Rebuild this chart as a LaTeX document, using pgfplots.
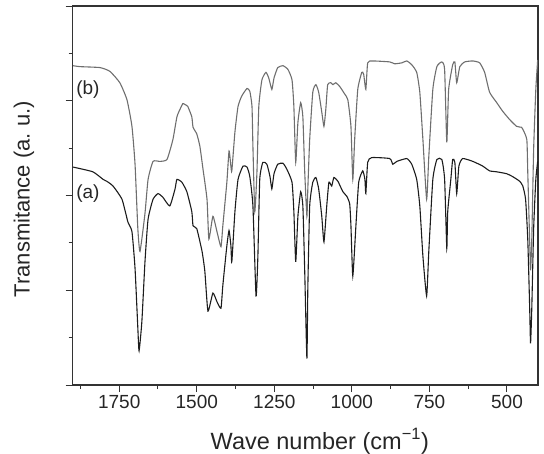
\documentclass[border=0pt]{standalone}
\usepackage{fontspec}
\setmainfont{Liberation Sans}
\usepackage{pgfplots}
\pgfplotsset{compat=1.18}

\definecolor{specA}{HTML}{1C1C1C}
\definecolor{specB}{HTML}{6E6E6E}
\definecolor{frame}{HTML}{333333}

\begin{document}
\begin{tikzpicture}
\useasboundingbox (-72.7pt,-68pt) rectangle (471.3pt,385pt);
\begin{axis}[
  scale only axis,
  width=465.3pt, height=379pt,
  x dir=reverse,
  xmin=400, xmax=1900, ymin=0, ymax=4,
  xtick={500,750,1000,1250,1500,1750},
  minor xtick={625,875,1125,1375,1625,1875},
  ytick={0,1,2,3,4}, minor ytick={0.5,1.5,2.5,3.5},
  yticklabels={},
  xtick pos=bottom, ytick pos=left,
  tick align=outside,
  major tick length=7pt, minor tick length=4pt,
  axis line style={frame, line width=1.2pt},
  every tick/.style={frame, line width=1.0pt},
  /pgf/number format/assume math mode=true,
  /pgf/number format/1000 sep={},
  tick label style={font=\fontsize{19}{19}\selectfont, text=black!85},
  xlabel={Wave number (cm\textsuperscript{−1})},
  ylabel={Transmitance (a.\ u.)},
  every axis x label/.style={at={(axis description cs:0.531,-0.1689)}, anchor=base,
    font=\fontsize{23.5}{24}\selectfont, text=black!85},
  every axis y label/.style={at={(axis description cs:-0.105,0.49)}, anchor=center, rotate=90,
    font=\fontsize{22}{22}\selectfont, text=black!85},
  clip=false,
]
% spectrum (b)
\addplot[specB, line width=1.1pt, smooth, tension=0.3] coordinates {
(1899,3.37) (1876,3.36) (1812,3.35) (1780,3.31) (1748,3.19) (1725,3.01) (1709,2.73)
(1699,2.33) (1690,1.65) (1683,1.41) (1667,1.81) (1657,2.17) (1641,2.36) (1619,2.36)
(1596,2.38) (1577,2.59) (1564,2.83) (1554,2.91) (1545,2.97) (1538,2.96) (1529,2.94)
(1516,2.83) (1512,2.72) (1500,2.65) (1490,2.52) (1480,2.28) (1467,1.96) (1461,1.54)
(1448,1.78) (1435,1.62) (1422,1.46) (1416,1.68) (1403,2.14) (1396,2.47) (1390,2.31)
(1387,2.26) (1377,2.67) (1367,2.94) (1355,3.05) (1338,3.13) (1329,3.10) (1322,2.94)
(1319,2.52) (1313,1.83) (1306,2.25) (1300,2.94) (1290,3.22) (1277,3.30) (1268,3.24)
(1258,3.12) (1251,3.24) (1239,3.35) (1222,3.37) (1206,3.33) (1193,3.22) (1187,2.94)
(1181,2.35) (1174,2.77) (1165,2.98) (1158,2.83) (1152,2.25) (1145,1.78) (1142,2.07)
(1136,2.59) (1126,3.09) (1116,3.17) (1107,3.09) (1097,2.88) (1090,2.73) (1084,2.91)
(1078,3.17) (1068,3.19) (1061,3.17) (1052,3.19) (1039,3.15) (1023,3.07) (1013,3.01)
(1003,2.73) (997,2.17) (991,2.59) (981,3.12) (968,3.30) (962,3.28) (955,3.12)
(949,3.40) (933,3.42) (878,3.41) (862,3.39) (839,3.40) (823,3.42) (807,3.38)
(791,3.30) (781,3.09) (771,2.59) (759,1.96) (752,2.41) (739,3.12) (726,3.36)
(710,3.41) (701,3.33) (694,2.56) (688,3.12) (675,3.38) (668,3.41) (662,3.19)
(652,3.36) (636,3.41) (610,3.42) (588,3.40) (572,3.30) (556,3.09) (533,2.98)
(514,2.89) (491,2.80) (469,2.73) (453,2.72) (449,2.70) (436,2.59) (433,2.25)
(427,1.54) (424,1.21) (420,1.54) (414,2.49) (407,3.12) (401,3.43)
};
% spectrum (a)
\addplot[specA, line width=1.1pt, smooth, tension=0.3] coordinates {
(1899,2.30) (1835,2.25) (1802,2.17) (1790,2.15) (1770,2.10) (1741,1.96) (1722,1.72)
(1709,1.62) (1699,1.23) (1690,0.60) (1686,0.36) (1677,0.67) (1667,1.30) (1657,1.75)
(1641,1.96) (1625,2.02) (1609,1.98) (1587,1.89) (1570,2.07) (1564,2.17) (1548,2.14)
(1532,2.04) (1516,1.83) (1512,1.68) (1500,1.65) (1483,1.41) (1474,1.20) (1464,0.78)
(1448,0.97) (1435,0.88) (1422,0.81) (1416,1.05) (1403,1.47) (1396,1.63) (1390,1.47)
(1387,1.30) (1377,1.83) (1367,2.17) (1351,2.31) (1338,2.30) (1329,2.20) (1319,1.89)
(1309,0.94) (1303,1.36) (1297,2.17) (1287,2.35) (1274,2.33) (1264,2.20) (1258,2.07)
(1251,2.23) (1239,2.33) (1222,2.34) (1210,2.28) (1193,2.14) (1187,1.83) (1181,1.30)
(1174,1.78) (1165,2.04) (1158,1.89) (1152,1.20) (1145,0.28) (1142,1.02) (1136,1.89)
(1126,2.14) (1116,2.19) (1107,2.07) (1097,1.78) (1090,1.51) (1081,1.89) (1074,2.14)
(1065,2.10) (1058,2.19) (1045,2.15) (1029,2.04) (1016,1.99) (1007,1.91) (1003,1.68)
(997,1.15) (987,1.68) (978,2.14) (965,2.26) (958,2.17) (955,2.02) (949,2.35)
(936,2.40) (878,2.39) (868,2.33) (855,2.36) (823,2.39) (807,2.33) (791,2.17)
(781,1.89) (771,1.36) (759,0.94) (752,1.41) (739,2.17) (726,2.38) (710,2.38)
(701,2.17) (694,1.44) (691,1.83) (681,2.17) (675,2.38) (668,2.35) (662,2.02)
(655,2.31) (643,2.39) (610,2.36) (578,2.31) (556,2.26) (533,2.25) (501,2.23)
(482,2.20) (459,2.15) (449,2.10) (440,1.96) (433,1.54) (427,0.84) (424,0.44)
(420,0.81) (414,1.65) (407,2.17) (401,2.36)
};
\node[font=\fontsize{19}{19}\selectfont, text=black!85] at (axis cs:1851,3.12) {(b)};
\node[font=\fontsize{19}{19}\selectfont, text=black!85] at (axis cs:1851,2.02) {(a)};
\end{axis}
\end{tikzpicture}
\end{document}
